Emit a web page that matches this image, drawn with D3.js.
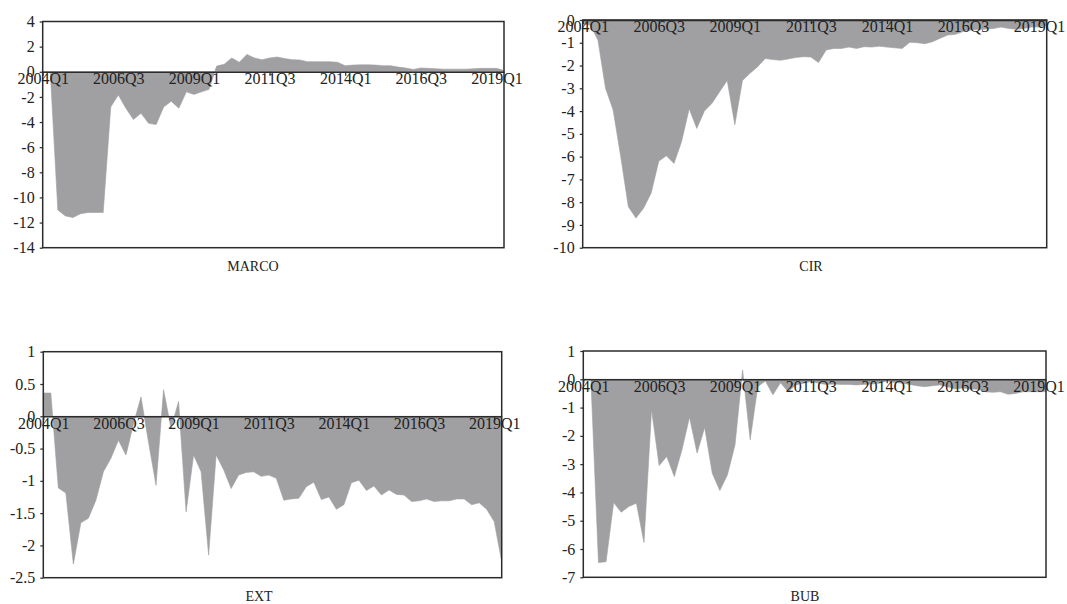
<!DOCTYPE html>
<html>
<head>
<meta charset="utf-8">
<script src="https://cdn.jsdelivr.net/npm/d3@7"></script>
<style>
  html, body { margin: 0; padding: 0; background: #fff; }
  svg { display: block; }
  text { font-family: "Liberation Serif", "Times New Roman", serif; fill: #222; }
</style>
</head>
<body>
<svg id="chart" width="1067" height="604"></svg>
<script>
// ---------- data ----------
const quarters = [];
for (let y = 2004; y <= 2019; y++) for (let q = 1; q <= 4; q++) quarters.push(y + "Q" + q);
quarters.length = 62; // 2004Q1 .. 2019Q2

const tickLabels = ["2004Q1", "2006Q3", "2009Q1", "2011Q3", "2014Q1", "2016Q3", "2019Q1"];

const marco = [0, 0, -11.0, -11.47, -11.6, -11.3, -11.2, -11.2, -11.2, -2.8,
  -1.85, -2.9, -3.8, -3.3, -4.1, -4.2, -2.8, -2.35, -2.9, -1.6,
  -1.8, -1.6, -1.4, 0.45, 0.6, 1.1, 0.75, 1.38, 1.1, 0.96,
  1.1, 1.17, 1.05, 0.96, 0.94, 0.8, 0.8, 0.8, 0.8, 0.75,
  0.48, 0.53, 0.55, 0.55, 0.53, 0.48, 0.48, 0.37, 0.3, 0.19,
  0.3, 0.27, 0.24, 0.21, 0.21, 0.21, 0.21, 0.24, 0.27, 0.27,
  0.27, 0.1];

const cir = [-0.18, -0.22, -0.88, -3.0, -3.95, -6.0, -8.2, -8.7, -8.27, -7.6,
  -6.2, -5.96, -6.3, -5.34, -3.9, -4.76, -4.0, -3.66, -3.15, -2.66,
  -4.6, -2.66, -2.34, -2.05, -1.69, -1.74, -1.77, -1.71, -1.65, -1.61,
  -1.63, -1.87, -1.32, -1.25, -1.25, -1.19, -1.25, -1.17, -1.19, -1.15,
  -1.19, -1.22, -1.25, -0.98, -1.0, -1.04, -0.95, -0.8, -0.66, -0.63,
  -0.51, -0.44, -0.42, -0.4, -0.37, -0.31, -0.37, -0.41, -0.37, -0.31,
  -0.31, -0.25];

const ext = [0.36, 0.36, -1.11, -1.19, -2.29, -1.65, -1.58, -1.3, -0.86, -0.65,
  -0.37, -0.6, -0.12, 0.3, -0.4, -1.07, 0.41, -0.19, 0.23, -1.48,
  -0.6, -0.86, -2.15, -0.6, -0.83, -1.12, -0.91, -0.87, -0.86, -0.93,
  -0.91, -0.96, -1.3, -1.28, -1.27, -1.09, -1.02, -1.29, -1.25, -1.44,
  -1.37, -1.03, -0.99, -1.15, -1.08, -1.22, -1.14, -1.21, -1.22, -1.32,
  -1.31, -1.28, -1.32, -1.31, -1.31, -1.28, -1.28, -1.37, -1.34, -1.44,
  -1.63, -2.25];

const bub = [0, 0, -6.48, -6.45, -4.36, -4.7, -4.5, -4.38, -5.77, -1.08,
  -3.05, -2.73, -3.44, -2.5, -1.34, -2.61, -1.7, -3.32, -3.93, -3.38,
  -2.32, 0.33, -2.14, -0.26, -0.06, -0.55, -0.12, -0.44, -0.2, -0.14,
  -0.08, -0.14, -0.18, -0.17, -0.18, -0.18, -0.2, -0.18, -0.17, -0.14,
  -0.06, -0.11, -0.14, -0.18, -0.23, -0.26, -0.23, -0.2, -0.26, -0.34,
  -0.31, -0.34, -0.35, -0.44, -0.46, -0.44, -0.53, -0.5, -0.44, -0.44,
  -0.44, -0.44];

const marcoTicks = [4, 2, 0, -2, -4, -6, -8, -10, -12, -14];
const cirTicks = [0, -1, -2, -3, -4, -5, -6, -7, -8, -9, -10];
const extTicks = [1, 0.5, 0, -0.5, -1, -1.5, -2, -2.5];
const bubTicks = [1, 0, -1, -2, -3, -4, -5, -6, -7];

// ---------- layout ----------
const panels = [
  { name: "MARCO", values: marco, ticks: marcoTicks, dom: [-14, 4],
    x0: 42.7, x1: 504, y0: 21.5, y1: 247.7, tx: 253, ty: 271 },
  { name: "CIR", values: cir, ticks: cirTicks, dom: [-10, 0],
    x0: 582.7, x1: 1046.7, y0: 20, y1: 247.7, tx: 811, ty: 271 },
  { name: "EXT", values: ext, ticks: extTicks, dom: [-2.5, 1],
    x0: 43.3, x1: 501.7, y0: 351.7, y1: 577.7, tx: 259, ty: 601 },
  { name: "BUB", values: bub, ticks: bubTicks, dom: [-7, 1],
    x0: 583.3, x1: 1046, y0: 351, y1: 577.3, tx: 805, ty: 601 }
];

const svg = d3.select("#chart");
const fillCol = "#a0a0a2";
const lineCol = "#2b2b2b";
const fontFam = "'Liberation Serif', 'Times New Roman', serif";

panels.forEach(p => {
  const g = svg.append("g");
  const x = d3.scaleLinear().domain([0, quarters.length - 1]).range([p.x0, p.x1]);
  const y = d3.scaleLinear().domain(p.dom).range([p.y1, p.y0]);

  const area = d3.area()
    .x((d, i) => x(i))
    .y0(y(0))
    .y1(d => y(d));

  g.append("path")
    .datum(p.values)
    .attr("d", area)
    .attr("fill", fillCol)
    .attr("stroke", fillCol)
    .attr("stroke-width", 0.6);

  // frame
  g.append("rect")
    .attr("x", p.x0).attr("y", p.y0)
    .attr("width", p.x1 - p.x0).attr("height", p.y1 - p.y0)
    .attr("fill", "none").attr("stroke", lineCol).attr("stroke-width", 1.5);

  // y axis
  const yAxis = d3.axisLeft(y)
    .tickValues(p.ticks)
    .tickFormat(d => String(d))
    .tickSizeInner(3).tickSizeOuter(0).tickPadding(5);
  const ya = g.append("g").attr("transform", `translate(${p.x0},0)`).call(yAxis);
  ya.select(".domain").remove();
  ya.selectAll("line").attr("stroke", lineCol).attr("stroke-width", 1.2);
  ya.selectAll("text").attr("font-size", 16).attr("fill", "#222")
    .attr("font-family", fontFam);

  // x axis on zero line
  const tickIdx = tickLabels.map(t => quarters.indexOf(t));
  const xAxis = d3.axisBottom(x)
    .tickValues(tickIdx)
    .tickFormat(i => quarters[i])
    .tickSizeInner(4).tickSizeOuter(0).tickPadding(-3);
  const xa = g.append("g").attr("transform", `translate(0,${y(0)})`).call(xAxis);
  xa.select(".domain").attr("stroke", lineCol).attr("stroke-width", 1.5);
  xa.selectAll("line").attr("stroke", lineCol).attr("stroke-width", 1.2);
  xa.selectAll("text").attr("font-size", 16).attr("fill", "#222")
    .attr("font-family", fontFam);

  // title
  g.append("text")
    .attr("x", p.tx).attr("y", p.ty)
    .attr("text-anchor", "middle")
    .attr("font-size", 14)
    .attr("font-family", fontFam)
    .text(p.name);
});
</script>
</body>
</html>
